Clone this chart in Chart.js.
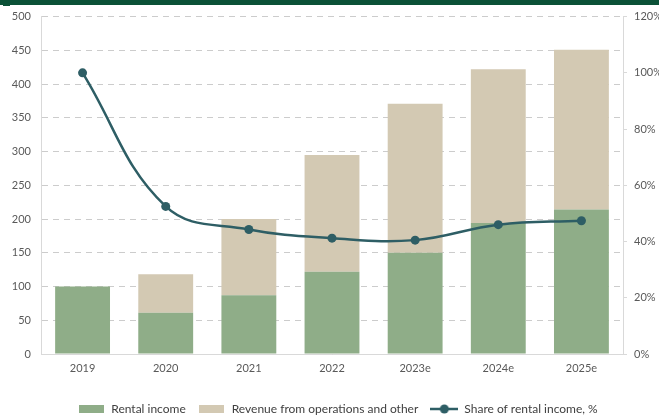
<!DOCTYPE html>
<html>
<head>
<meta charset="utf-8">
<script src="https://cdn.jsdelivr.net/npm/chart.js@4"></script>
<style>
  body { margin: 0; background: #fff; }
  canvas { display: block; }
</style>
</head>
<body>
<canvas id="myChart" width="659" height="417"></canvas>
<script>
// data
const years = ['2019', '2020', '2021', '2022', '2023e', '2024e', '2025e'];
const rentalIncome = [100, 61, 87, 122, 150, 194, 214];
const revenueOther = [0, 57, 113, 173, 221, 228, 237];
const rentalShare = [100, 52.5, 44.3, 41.2, 40.5, 46, 47.4]; // %

const GREEN = '#8fad88';
const BEIGE = '#d3c9b3';
const TEAL = '#2e5e65';

// little canvases used as legend markers
function boxMarker(color) {
    const c = document.createElement('canvas');
    c.width = 25; c.height = 8;
    const g = c.getContext('2d');
    g.fillStyle = color;
    g.fillRect(0, 0, 25, 8);
    return c;
}
function lineMarker(color) {
    const c = document.createElement('canvas');
    c.width = 28; c.height = 10;
    const g = c.getContext('2d');
    g.strokeStyle = color;
    g.lineWidth = 2.5;
    g.beginPath(); g.moveTo(0, 5); g.lineTo(28, 5); g.stroke();
    g.fillStyle = color;
    g.beginPath(); g.arc(14, 5, 4.5, 0, Math.PI * 2); g.fill();
    return c;
}

// dark green band at the very top
const topBand = {
    id: 'topBand',
    beforeDraw(chart) {
        const ctx = chart.ctx;
        ctx.save();
        ctx.fillStyle = '#0b5137';
        ctx.fillRect(0, 0, chart.width, 5);
        ctx.fillRect(3, 0, 7, 6);
        ctx.restore();
    }
};

// pin legend height and nudge it right, like in the reference
const legendTweak = {
    id: 'legendTweak',
    afterInit(chart) {
        const lg = chart.legend;
        const origFit = lg.fit;
        lg.fit = function () {
            origFit.call(this);
            this.height = 26;
        };
        const origDraw = lg.draw;
        lg.draw = function () {
            const c = this.ctx;
            c.save();
            c.translate(8, 0);
            origDraw.call(this);
            c.restore();
        };
    }
};

const ctx = document.getElementById('myChart').getContext('2d');

const myChart = new Chart(ctx, {
    type: 'bar',
    data: {
        labels: years,
        datasets: [
            {
                type: 'line',
                label: 'Share of rental income, %',
                data: rentalShare,
                yAxisID: 'y1',
                borderColor: TEAL,
                backgroundColor: TEAL,
                borderWidth: 2.5,
                pointRadius: 4.5,
                pointBackgroundColor: TEAL,
                pointBorderWidth: 0,
                tension: 0.4,
                fill: false,
                order: 0
            },
            {
                label: 'Rental income',
                data: rentalIncome,
                backgroundColor: GREEN,
                yAxisID: 'y',
                stack: 'rev',
                barPercentage: 0.66,
                categoryPercentage: 1,
                order: 1
            },
            {
                label: 'Revenue from operations and other',
                data: revenueOther,
                backgroundColor: BEIGE,
                yAxisID: 'y',
                stack: 'rev',
                barPercentage: 0.66,
                categoryPercentage: 1,
                order: 2
            }
        ]
    },
    options: {
        responsive: false,
        animation: false,
        layout: { padding: { top: 16, left: 0, right: 0, bottom: 0 } },
        plugins: {
            tooltip: { enabled: false },
            legend: {
                position: 'bottom',
                labels: {
                    usePointStyle: true,
                    pointStyleWidth: 28,
                    padding: 12,
                    color: '#404040',
                    font: { family: 'Lato', size: 12 },
                    generateLabels: () => [
                        { text: 'Rental income', pointStyle: boxMarker(GREEN), fontColor: '#404040', lineWidth: 0, strokeStyle: 'transparent', fillStyle: GREEN },
                        { text: 'Revenue from operations and other', pointStyle: boxMarker(BEIGE), fontColor: '#404040', lineWidth: 0, strokeStyle: 'transparent', fillStyle: BEIGE },
                        { text: 'Share of rental income, %', pointStyle: lineMarker(TEAL), fontColor: '#404040', lineWidth: 0, strokeStyle: 'transparent', fillStyle: TEAL }
                    ]
                }
            }
        },
        scales: {
            x: {
                stacked: true,
                grid: { display: false, drawTicks: false },
                border: { display: true, color: '#d9d9d9', width: 1 },
                ticks: { color: '#595959', padding: 8, font: { family: 'Lato', size: 11 } },
                afterFit(scale) { scale.height = 37; }
            },
            y: {
                stacked: true,
                position: 'left',
                min: 0,
                max: 500,
                ticks: { stepSize: 50, color: '#595959', padding: 10, font: { family: 'Lato', size: 11 } },
                grid: { color: '#cccccc', lineWidth: 1, drawTicks: false },
                border: { display: true, color: '#d9d9d9', dash: [6, 5] },
                afterFit(scale) { scale.width = 41; }
            },
            y1: {
                stacked: false,
                position: 'right',
                min: 0,
                max: 120,
                ticks: {
                    stepSize: 20,
                    color: '#595959',
                    padding: 7,
                    font: { family: 'Lato', size: 11 },
                    callback: v => v + '%'
                },
                grid: { drawOnChartArea: false, color: '#d9d9d9', tickLength: 4 },
                border: { display: true, color: '#d9d9d9' },
                afterFit(scale) { scale.width = 36; }
            }
        }
    },
    plugins: [topBand, legendTweak]
});
</script>
</body>
</html>
